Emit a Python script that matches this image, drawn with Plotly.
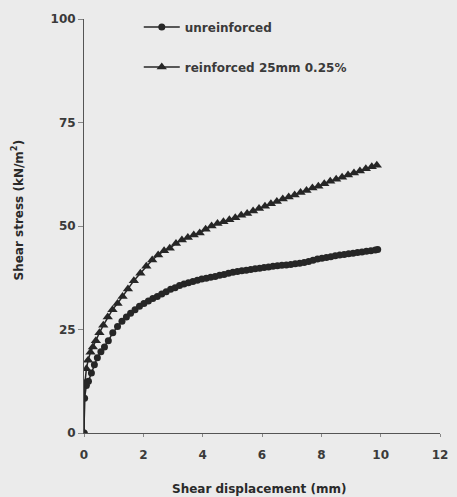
import plotly.graph_objects as go

# Reinforced 25mm 0.25% (triangles)
reinf_x = [0, 0, 0.03, 0.08, 0.14, 0.22, 0.30, 0.40, 0.52, 0.65, 0.80, 0.96, 1.13, 1.30, 1.48,
           1.68, 1.90, 2.10, 2.30, 2.50, 2.70, 2.89, 3.10, 3.30, 3.50, 3.70, 3.90, 4.10, 4.30,
           4.50, 4.70, 4.90, 5.10, 5.30, 5.50, 5.70, 5.90, 6.10, 6.30, 6.50, 6.70, 6.90, 7.10,
           7.30, 7.50, 7.70, 7.90, 8.10, 8.30, 8.50, 8.70, 8.90, 9.10, 9.30, 9.50, 9.70, 9.87]
reinf_y = [0, 0, 12.0, 15.5, 17.6, 19.5, 20.8, 22.3, 24.2, 26.0, 28.0, 29.8, 31.3, 33.0, 34.8,
           36.8, 38.6, 40.3, 41.8, 43.0, 44.0, 44.6, 45.8, 46.6, 47.2, 47.8, 48.3, 49.2, 50.0,
           50.6, 51.0, 51.5, 52.0, 52.6, 53.0, 53.6, 54.2, 54.8, 55.4, 55.9, 56.5, 57.0, 57.5,
           58.1, 58.6, 59.2, 59.6, 60.2, 60.8, 61.3, 61.8, 62.3, 62.8, 63.3, 63.8, 64.3, 64.7]

# Unreinforced (circles)
unr_x = [0, 0, 0.02, 0.08, 0.15, 0.25, 0.35, 0.45, 0.57, 0.69, 0.82, 0.97, 1.13, 1.28, 1.43,
         1.57, 1.72, 1.87, 2.02, 2.17, 2.32, 2.47, 2.62, 2.77, 2.92, 3.07, 3.22, 3.37, 3.52,
         3.67, 3.82, 3.97, 4.12, 4.27, 4.42, 4.57, 4.72, 4.87, 5.02, 5.17, 5.32, 5.47, 5.62,
         5.77, 5.92, 6.07, 6.22, 6.37, 6.52, 6.67, 6.82, 6.97, 7.12, 7.27, 7.42, 7.57, 7.72,
         7.87, 8.02, 8.17, 8.32, 8.47, 8.62, 8.77, 8.92, 9.07, 9.22, 9.37, 9.52, 9.67, 9.82, 9.90]
unr_y = [0, 0, 8.4, 11.5, 12.5, 14.5, 16.5, 18.2, 19.6, 20.8, 22.3, 24.2, 25.7, 27.0, 28.0,
         28.9, 29.8, 30.6, 31.3, 31.9, 32.5, 33.0, 33.6, 34.1, 34.7, 35.1, 35.6, 36.0, 36.3,
         36.6, 36.9, 37.2, 37.4, 37.6, 37.8, 38.1, 38.3, 38.6, 38.8, 39.0, 39.2, 39.3, 39.5,
         39.7, 39.8, 40.0, 40.1, 40.3, 40.4, 40.5, 40.6, 40.7, 40.9, 41.0, 41.2, 41.4, 41.7,
         42.0, 42.2, 42.4, 42.6, 42.8, 43.0, 43.1, 43.3, 43.4, 43.6, 43.7, 43.9, 44.0, 44.2, 44.3]

x_ticks = [0, 2, 4, 6, 8, 10, 12]
y_ticks = [0, 25, 50, 75, 100]

ink = "#262626"
txt = "#3a3a3a"
bg = "#ebebeb"
font_family = "DejaVu Sans, sans-serif"

fig = go.Figure()
fig.add_trace(go.Scatter(
    x=unr_x, y=unr_y, mode="lines+markers", name="unreinforced",
    legendgroup="a",
    line=dict(color=ink, width=1.5),
    marker=dict(symbol="circle", size=7, color=ink),
))
fig.add_trace(go.Scatter(
    x=reinf_x, y=reinf_y, mode="lines+markers", name="reinforced 25mm 0.25%",
    legendgroup="b",
    line=dict(color=ink, width=1.5),
    marker=dict(symbol="triangle-up", size=9, color=ink),
))

fig.update_layout(
    width=457, height=497,
    margin=dict(l=84, r=9, t=19, b=64),
    paper_bgcolor=bg, plot_bgcolor=bg,
    font=dict(family=font_family, size=12, color=txt, weight="bold"),
    showlegend=True,
    legend=dict(
        x=(140 - 84) / 364, y=1.016, xanchor="left", yanchor="top",
        bgcolor="rgba(0,0,0,0)", tracegroupgap=21, itemwidth=36,
        font=dict(size=12, color=txt, weight="bold"),
    ),
    xaxis=dict(
        range=[0, 12], tickvals=x_ticks, showgrid=False, zeroline=False,
        showline=True, linecolor="#555", linewidth=1,
        ticks="outside", ticklen=3, tickcolor="#888", ticklabelstandoff=8,
        tickfont=dict(size=12, color=txt, weight="bold"),
    ),
    yaxis=dict(
        range=[0, 100], tickvals=y_ticks, showgrid=False, zeroline=False,
        showline=True, linecolor="#555", linewidth=1,
        ticks="outside", ticklen=5, tickcolor="#888",
        tickfont=dict(size=12, color=txt, weight="bold"),
    ),
    annotations=[
        dict(text="Shear displacement (mm)", xref="paper", yref="paper",
             x=(263 - 84) / 364, y=-(489 - 433) / 414, xanchor="center", yanchor="middle",
             showarrow=False, font=dict(size=12, color="#2a2a2a", weight="bold")),
        dict(text="Shear stress (kN/m<sup>2</sup>)", xref="paper", yref="paper",
             x=-(84 - 16) / 364, y=(433 - 210) / 414, xanchor="center", yanchor="middle",
             textangle=-90, showarrow=False, font=dict(size=12, color="#2a2a2a", weight="bold")),
    ],
)

fig.write_html("out.html")
